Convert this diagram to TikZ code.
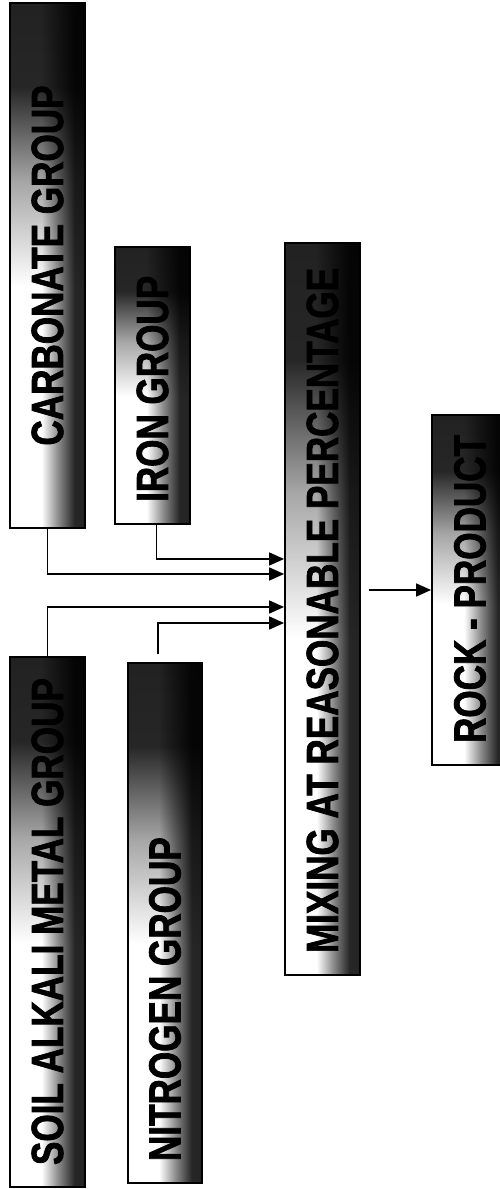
\documentclass[tikz,border=0pt]{standalone}
\usepackage{fontspec}
\usepackage{graphicx}
\usepackage{tikz}
\usetikzlibrary{arrows.meta,positioning,calc}
\newfontfamily\grpfont[FakeStretch=0.78, FakeBold=1.6]{Liberation Sans Bold}
% shading of the group boxes: white at the bottom, black at the top,
% with a dark strip that runs up the right-hand edge
\pgfdeclarehorizontalshading{grpfadeup}{100bp}{color(0bp)=(white); color(48bp)=(white);
  color(58bp)=(black!35); color(67bp)=(black!85); color(100bp)=(black!92)}
\pgfdeclarehorizontalshading{grpfadeside}{100bp}{color(0bp)=(white); color(46bp)=(white);
  color(57bp)=(black!45); color(68bp)=(black!85); color(100bp)=(black!90)}
\tikzset{
  % Upright box, text runs bottom to top.
  grp/.style  = {rectangle, draw=black, line width=1.8pt, inner sep=0pt,
                 minimum width=75pt, shading=grpfadeup, shading angle=90,
                 postaction={shade, shading=grpfadeside, shading angle=0, blend mode=multiply},
                 font=\grpfont\fontsize{45}{50}\selectfont},
  arr/.style  = {-{Triangle[length=15pt, width=13pt]}, line width=1.6pt, black},
}
\newcommand{\vlabel}[3][l]{\rotatebox{90}{\makebox[#2][#1]{#3}}}

\begin{document}
\begin{tikzpicture}[x=1pt,y=1pt]
\useasboundingbox (0,0) rectangle (500,1189);
\clip (0,0) rectangle (500,1189);
% --- the four groups ----------------------------------------------------
\node[grp, minimum height=525pt] (carb) at (47.5,923.5) {\vlabel[c]{481pt}{CARBONATE GROUP}};
\node[grp, minimum height=277pt] (iron) at (152.5,803.5) {\vlabel{233pt}{IRON GROUP}};
\node[grp, minimum height=530pt] (soil) at (47.5,267) {\vlabel{486pt}{SOIL ALKALI METAL GROUP}};
\node[grp, minimum width=74pt, minimum height=520pt] (nit) at (165,266) {\vlabel{476pt}{NITROGEN GROUP}};
% --- mixing and product -------------------------------------------------
\node[grp, minimum height=732pt] (mix) at (322.5,580) {\vlabel{688pt}{MIXING AT REASONABLE PERCENTAGE}};
\node[grp, minimum width=76pt, minimum height=350pt] (rock) at (470,599) {\vlabel{306pt}{ROCK - PRODUCT}};
% --- feeds into the mixing ----------------------------------------------
\draw[arr] (carb.south) |- ([yshift=35pt]mix.west);
\draw[arr] ([xshift=4pt]iron.south) |- ([yshift=50pt]mix.west);
\draw[arr] (soil.north) |- ([yshift=2pt]mix.west);
\draw[arr, shorten <=8pt] ([xshift=-7pt]nit.north) |- ([yshift=-14pt]mix.west);
\draw[arr, shorten <=8pt] (mix.east |- rock.west) -- (rock.west);
\end{tikzpicture}
\end{document}
